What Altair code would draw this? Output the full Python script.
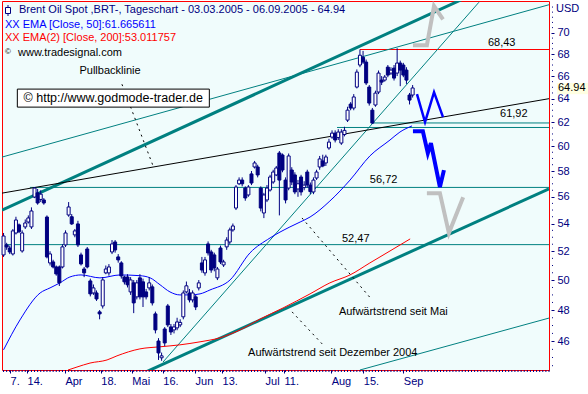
import altair as alt
import pandas as pd

# ---------------- data ----------------
opens = [51.74, 52.45, 52.23, 51.81, 53.31, 53.90, 52.02, 53.75, 54.11, 53.75,
         55.98, 56.30, 55.80, 55.76, 54.48, 51.18, 51.25, 50.90, 50.90, 50.90,
         52.45, 54.63, 54.50, 53.17, 53.97, 51.74, 50.76, 52.16, 49.94, 49.13,
         49.13, 47.88, 48.27, 50.49, 50.49, 51.95, 52.66, 51.60, 51.18, 50.21,
         50.21, 49.20, 49.81, 48.87, 50.15, 49.88, 49.20, 49.47, 49.54, 47.75,
         46.02, 44.98, 46.78, 48.27, 46.91, 46.72, 46.85, 47.04, 47.56, 49.20,
         49.13, 48.67, 48.87, 49.47, 51.18, 50.49, 52.52, 51.95, 51.74, 50.15,
         52.23, 51.04, 52.31, 52.66, 53.53, 55.15, 57.00, 57.29, 56.67, 56.14,
         57.77, 58.32, 58.32, 56.67, 54.78, 55.76, 56.52, 57.14, 57.69, 59.44,
         59.28, 57.29, 56.67, 58.08, 57.69, 56.60, 57.53, 56.70, 57.92, 56.90,
         56.37, 57.45, 58.32, 58.80, 58.64, 59.85, 60.74, 61.07, 60.70, 60.25,
         60.95, 62.16, 63.53, 63.19, 65.02, 67.00, 67.71, 67.27, 65.02, 63.01,
         63.45, 64.58, 65.64, 65.64, 66.81, 66.27, 66.72, 66.27, 67.18, 67.00,
         66.54, 64.32, 64.32]
highs = [53.31, 52.60, 52.40, 53.60, 54.50, 54.00, 53.50, 54.30, 54.60, 55.20,
         56.75, 56.60, 56.50, 55.90, 54.60, 52.00, 51.40, 51.00, 51.00, 52.50,
         53.50, 55.60, 54.70, 53.60, 54.20, 51.90, 50.90, 52.30, 50.10, 49.70,
         49.30, 48.00, 50.20, 51.00, 51.10, 52.80, 52.80, 51.80, 51.30, 50.30,
         50.40, 50.20, 50.00, 50.00, 50.40, 50.10, 49.40, 50.20, 49.70, 47.90,
         46.20, 45.30, 46.90, 48.40, 47.10, 47.10, 47.50, 47.40, 49.30, 49.90,
         49.40, 49.30, 49.00, 50.00, 51.60, 51.60, 52.70, 52.10, 51.90, 50.90,
         52.40, 51.40, 53.00, 53.70, 54.00, 56.90, 57.50, 57.50, 56.80, 56.90,
         58.00, 58.80, 58.50, 56.80, 56.30, 56.90, 57.70, 58.10, 58.40, 59.60,
         59.40, 57.50, 59.40, 58.30, 57.90, 57.30, 57.70, 57.20, 58.10, 57.10,
         57.50, 58.10, 59.20, 59.30, 59.30, 60.60, 61.30, 61.30, 61.40, 61.40,
         61.60, 63.30, 63.70, 64.40, 66.60, 68.43, 68.30, 67.50, 65.20, 63.20,
         64.70, 66.50, 66.00, 66.10, 67.00, 66.80, 67.00, 68.55, 67.40, 67.20,
         66.80, 64.50, 65.20]
lows = [51.60, 52.10, 51.80, 51.70, 53.20, 53.30, 51.90, 53.60, 54.00, 53.60,
        55.90, 55.40, 55.60, 55.40, 51.50, 51.00, 50.80, 50.30, 49.60, 50.80,
        52.30, 54.50, 53.90, 53.00, 52.30, 51.00, 50.20, 50.80, 48.90, 49.00,
        48.60, 47.40, 48.10, 50.40, 50.30, 51.80, 51.90, 51.20, 50.10, 49.70,
        49.50, 49.00, 47.80, 48.70, 48.70, 48.20, 48.70, 49.30, 48.30, 46.50,
        44.85, 44.80, 45.70, 46.90, 46.40, 46.50, 46.70, 46.90, 47.40, 49.10,
        48.50, 48.50, 48.00, 49.30, 50.50, 50.30, 51.70, 50.50, 50.60, 50.00,
        51.10, 50.90, 52.10, 52.50, 53.40, 55.00, 56.90, 56.80, 55.70, 56.00,
        56.90, 58.20, 57.50, 54.90, 54.40, 55.60, 56.40, 57.00, 57.60, 54.60,
        57.90, 55.50, 56.50, 56.90, 56.20, 56.00, 56.10, 56.50, 56.70, 56.20,
        56.20, 57.30, 58.10, 58.30, 58.40, 59.70, 60.60, 60.30, 60.50, 60.10,
        60.80, 62.00, 63.00, 63.00, 64.90, 66.80, 67.10, 65.20, 63.40, 61.85,
        63.30, 64.40, 65.20, 65.50, 65.90, 66.10, 65.60, 66.00, 65.10, 65.90,
        65.30, 63.50, 64.10]
closes = [53.09, 52.30, 51.95, 53.46, 54.26, 53.40, 53.31, 54.04, 54.41, 54.93,
          56.67, 55.53, 56.20, 55.53, 51.60, 51.81, 50.90, 50.42, 49.81, 52.31,
          53.31, 55.23, 53.97, 53.46, 52.45, 51.11, 50.49, 50.90, 49.07, 49.47,
          48.73, 47.75, 50.01, 50.76, 50.90, 52.52, 52.09, 51.39, 50.28, 49.88,
          49.68, 50.01, 48.47, 49.81, 48.87, 48.87, 48.87, 49.81, 48.47, 46.72,
          45.28, 45.10, 45.90, 47.04, 46.59, 46.91, 47.23, 47.20, 49.13, 49.61,
          48.67, 49.13, 48.20, 49.81, 50.69, 51.39, 51.88, 50.69, 50.83, 50.76,
          51.25, 51.25, 52.80, 53.53, 53.82, 56.75, 57.29, 57.00, 55.91, 56.75,
          57.06, 58.64, 57.69, 55.15, 56.14, 56.67, 57.53, 57.92, 58.24, 57.29,
          58.08, 55.76, 59.20, 57.14, 56.37, 57.00, 56.37, 56.90, 56.91, 56.40,
          57.29, 57.92, 58.96, 58.40, 59.12, 60.33, 61.07, 60.50, 61.16, 61.16,
          61.30, 63.01, 63.19, 64.15, 66.36, 67.90, 67.27, 65.38, 63.62, 61.91,
          64.49, 66.27, 65.46, 65.91, 66.09, 66.54, 65.82, 67.18, 66.54, 66.09,
          65.64, 63.88, 64.94]

ema50_day = [0, 5.3, 11.8, 15.0, 18.2, 21.4, 25.0, 31.1, 37.6, 44.0, 47.3, 50.5,
             53.7, 56.9, 60.2, 63.4, 66.6, 73.1, 79.5, 86.0, 92.4, 95.7, 98.9,
             105.3, 111.8, 118.2, 124.7, 127.9, 131.8]
ema50_val = [45.47, 47.36, 49.13, 49.47, 49.81, 50.21, 50.35, 50.15, 50.35, 50.30,
             50.15, 49.68, 49.20, 49.00, 49.00, 49.07, 49.33, 50.01, 51.88, 52.95,
             53.75, 54.11, 54.48, 55.68, 57.29, 59.20, 60.50, 61.16, 61.67]

ema200_day = [20.8, 23.7, 27.9, 33.4, 36.6, 44.0, 50.5, 56.9, 63.4, 69.8, 76.3,
              82.8, 90.2, 98.9, 105.3, 111.8, 118.2, 124.7, 131.2]
ema200_val = [44.24, 44.42, 44.66, 44.85, 45.10, 45.53, 45.66, 45.78, 45.97, 46.22,
              46.72, 47.42, 48.14, 49.07, 49.81, 50.35, 51.18, 52.02, 52.88]

x_tick_pos = [2.1, 7.6, 19.8, 31.4, 41.4, 51.4, 61.8, 70.5, 84.4, 90.5, 105.7, 116.1, 129.0]
x_tick_lab = ["7.", "14.", "Apr", "18.", "Mai", "16.", "Jun", "13.", "Jul", "11.", "Aug", "15.", "Sep"]
y_tick_vals = [46, 48, 50, 52, 54, 56, 58, 60, 62, 64, 66, 68, 70]
y_minor_vals = [44.5, 45, 45.5, 46.5, 47, 47.5, 48.5, 49, 49.5, 50.5, 51, 51.5, 52.5,
                53, 53.5, 54.5, 55, 55.5, 56.5, 57, 57.5, 58.5, 59, 59.5, 60.5, 61,
                61.5, 62.5, 63, 63.5, 64.5, 65, 65.5, 66.5, 67, 67.5, 68.5, 69, 69.5,
                70.5, 71, 71.5, 72, 72.5]

# trend lines: (days, values) of the two end points
channel_low = ([44.0, 176.0], [43.96, 56.61])
channel_high = ([-0.5, 176.0], [55.00, 77.34])
thin_high = ([-0.5, 176.0], [59.11, 72.73])
thin_low = ([115.0, 176.0], [44.24, 47.48])
trend_may = ([51.45, 153.4], [44.72, 72.98])
pullback = ([-0.5, 176.0], [56.28, 64.00])

level_vals = [68.43, 61.92, 61.54, 56.72, 52.47]
level_start = [115.0, 119.2, 107.6, 8.5, -0.5]
level_colors = ["#FF0000", "#008080", "#008080", "#008080", "#008080"]
level_labels = ["68,43", "61,92", "56,72", "52,47"]
level_label_day = [156.3, 160.2, 118.2, 109.2]
level_label_val = [68.43, 61.92, 56.72, 52.47]
level_label_dy = [-4, -6, -4, -3]

zig_up_day = [133.4, 136.0, 138.9, 141.8]
zig_up_val = [64.39, 61.99, 64.57, 62.41]
zig_down_day = [132.1, 135.3, 136.9, 137.9, 140.8, 142.1]
zig_down_val = [61.23, 61.23, 59.43, 60.24, 56.74, 58.07]
grey_up_day = [132.1, 136.6, 138.9, 141.8]
grey_up_val = [68.83, 68.83, 72.6, 71.3]
grey_down_day = [136.6, 140.8, 143.7, 148.3]
grey_down_val = [56.28, 56.28, 53.30, 55.97]

lead_pull_day = [38.2, 48.5]
lead_pull_val = [65.27, 58.24]
lead_may_day = [96.3, 118.9]
lead_may_val = [54.41, 48.67]
lead_dec_day = [93.1, 102.8]
lead_dec_val = [47.88, 45.84]

# ---------------- styling ----------------
NAVY = "#000080"
TEAL = "#008080"
BG = "#F0FCFC"
FONT = "Liberation Sans"

xs = alt.Scale(domain=[-0.5, 176.0], nice=False, zero=False, padding=0)
ys = alt.Scale(type="log", domain=[44.24, 73.10], nice=False, padding=0)

label_js = "[" + ",".join("'%s'" % s for s in x_tick_lab) + "]"
pos_js = "[" + ",".join(str(p) for p in x_tick_pos) + "]"

x_axis = alt.Axis(values=x_tick_pos, labelExpr=f"{label_js}[indexof({pos_js}, datum.value)]",
                  labelAlign="left", tickSize=3, labelPadding=2, domain=False,
                  grid=False, labelColor=NAVY, tickColor=NAVY, labelFont=FONT,
                  labelFontSize=11, title=None, labelFlush=False, labelOverlap=False)
y_axis = alt.Axis(values=y_tick_vals, orient="right", format="d", tickSize=3,
                  offset=2, labelPadding=3, domain=False, grid=False,
                  labelColor=NAVY, tickColor=NAVY, labelFont=FONT, labelFontSize=11,
                  title=None, labelFlush=False, labelOverlap=False)


def X(f):
    return alt.X(f, type="quantitative", scale=xs, axis=x_axis)


def Y(f):
    return alt.Y(f, type="quantitative", scale=ys, axis=y_axis)


def line_layer(days, vals, color, width, dash=None, clip=True, interp="linear"):
    d = pd.DataFrame({"d": days, "v": vals, "k": list(range(len(days)))})
    kw = dict(color=color, strokeWidth=width, clip=clip, strokeCap="butt",
              interpolate=interp)
    if dash:
        kw["strokeDash"] = dash
    return alt.Chart(d).mark_line(**kw).encode(x=X("d"), y=Y("v"), order="k:Q")


def pixel_text(txt, px, py, color, size=11):
    return alt.Chart(pd.DataFrame({"t": [txt]})).mark_text(
        font=FONT, fontSize=size, align="left", baseline="middle", color=color,
        clip=False).encode(x=alt.value(px), y=alt.value(py), text="t:N")


candles = pd.DataFrame({"d": list(range(len(closes))), "o": opens, "h": highs,
                        "l": lows, "c": closes})

minor_y = alt.Chart(pd.DataFrame({"v": y_minor_vals})).mark_rule(
    color=NAVY, strokeWidth=1, clip=False).encode(
    y=Y("v"), x=alt.value(550), x2=alt.value(551))

minor_x = alt.Chart(pd.DataFrame({"d": list(range(0, 177))})).mark_rule(
    color=NAVY, strokeWidth=1, clip=False).encode(
    x=X("d"), y=alt.value(369), y2=alt.value(371))

wicks = alt.Chart(candles).mark_rule(color=NAVY, strokeWidth=1).encode(
    x=X("d"), y=Y("l"), y2=alt.Y2("h"))
bodies = alt.Chart(candles).mark_bar(size=3, stroke=NAVY, strokeWidth=1).encode(
    x=X("d"), y=Y("o"), y2=alt.Y2("c"),
    fill=alt.condition("datum.c >= datum.o", alt.value("#FFFFFF"), alt.value(NAVY)))

ema50 = line_layer(ema50_day, ema50_val, "#0000FF", 1, interp="monotone")
ema200 = line_layer(ema200_day, ema200_val, "#FF0000", 1, interp="monotone")

levels = []
for v, s, c in zip(level_vals, level_start, level_colors):
    levels.append(line_layer([s, 176.0], [v, v], c, 1))

lvl_df = pd.DataFrame({"d": level_label_day, "v": level_label_val, "t": level_labels})
level_text = []
for k in range(len(level_labels)):
    level_text.append(alt.Chart(lvl_df.iloc[[k]]).mark_text(
        align="left", baseline="alphabetic", dy=level_label_dy[k], font=FONT,
        fontSize=11, color="#000000").encode(x=X("d"), y=Y("v"), text="t:N"))

trend = [
    line_layer(*channel_low, TEAL, 3),
    line_layer(*channel_high, TEAL, 3),
    line_layer(*thin_high, TEAL, 1),
    line_layer(*thin_low, TEAL, 1),
    line_layer(*trend_may, TEAL, 1),
    line_layer(*pullback, "#000000", 1),
]

leaders = [
    line_layer(lead_pull_day, lead_pull_val, "#000000", 1, dash=[2, 4]),
    line_layer(lead_may_day, lead_may_val, "#000000", 1, dash=[2, 4]),
    line_layer(lead_dec_day, lead_dec_val, "#000000", 1, dash=[2, 4]),
]

arrows = [
    line_layer(grey_up_day, grey_up_val, "#C0C0C0", 4),
    line_layer(grey_down_day, grey_down_val, "#C0C0C0", 4),
    line_layer(zig_up_day, zig_up_val, "#0000FF", 2.5),
    line_layer(zig_down_day, zig_down_val, "#0000FF", 4),
]

box_df = pd.DataFrame({"d1": [4.45], "d2": [66.4], "v1": [64.84], "v2": [63.27]})
box = alt.Chart(box_df).mark_rect(fill="#FFFFFF", stroke="#000000", strokeWidth=1).encode(
    x=X("d1"), x2=alt.X2("d2"), y=Y("v1"), y2=alt.Y2("v2"))
box_text = alt.Chart(pd.DataFrame({"d": [35.4], "v": [64.04],
                                   "t": ["© http://www.godmode-trader.de"]})).mark_text(
    font=FONT, fontSize=12.5, color="#000000", align="center", baseline="middle").encode(
    x=X("d"), y=Y("v"), text="t:N")

ann_df = pd.DataFrame({"d": [34.35, 108.2, 78.9], "v": [66.45, 47.90, 45.28],
                       "t": ["Pullbacklinie", "Aufwärtstrend seit Mai",
                             "Aufwärtstrend seit Dezember 2004"],
                       "a": ["center", "left", "left"]})
ann = []
for k in range(len(ann_df)):
    ann.append(alt.Chart(ann_df.iloc[[k]]).mark_text(
        font=FONT, fontSize=11, color="#000000", align=ann_df["a"][k],
        baseline="middle").encode(x=X("d"), y=Y("v"), text="t:N"))

hdr = [
    pixel_text("Brent Oil Spot ,BRT-, Tageschart - 03.03.2005 - 06.09.2005 - 64.94", 17, 9, NAVY),
    pixel_text("XX EMA [Close, 50]:61.665611", 3, 23.5, "#0000FF"),
    pixel_text("XX EMA(2) [Close, 200]:53.011757", 3, 37, "#FF0000"),
    pixel_text("www.tradesignal.com", 16, 52, "#000000"),
    pixel_text("©", 3, 51, "#000000", size=8),
    pixel_text("USD", 554, 8, NAVY),
]
icon_rule = alt.Chart(pd.DataFrame({"a": [0]})).mark_rule(color=NAVY, strokeWidth=1).encode(
    x=alt.value(6), y=alt.value(4), y2=alt.value(15))
icon_box = alt.Chart(pd.DataFrame({"a": [0]})).mark_rect(
    fill="#FFFFFF", stroke=NAVY, strokeWidth=1).encode(
    x=alt.value(3.5), x2=alt.value(8.5), y=alt.value(6.5), y2=alt.value(12.5))

last_df = pd.DataFrame({"v": [closes[-1]], "t": ["%.2f" % closes[-1]],
                        "v1": [65.38], "v2": [64.39]})
last_box = alt.Chart(last_df).mark_rect(fill="#FFFFE1", clip=False).encode(
    x=alt.value(555), x2=alt.value(586), y=Y("v1"), y2=alt.Y2("v2"))
last_txt = alt.Chart(last_df).mark_text(
    font=FONT, fontSize=11, align="left", baseline="middle", color="#000000",
    clip=False).encode(x=alt.value(556), y=Y("v"), text="t:N")

layers = ([minor_y, minor_x] + levels + trend + [ema200, ema50] + leaders +
          [box, box_text] + ann + [wicks, bodies] + arrows + level_text +
          [last_box, last_txt] + hdr + [icon_rule, icon_box])

chart = alt.layer(*layers).properties(
    width=547, height=369,
    padding={"left": 2, "top": 1, "right": 39, "bottom": 24},
    autosize=alt.AutoSizeParams(type="none"),
    background="#FFFFFF",
).configure_view(fill=BG, stroke="#FF0000", strokeWidth=1)

chart.save("out.html", embed_options={"renderer": "svg", "actions": False})
